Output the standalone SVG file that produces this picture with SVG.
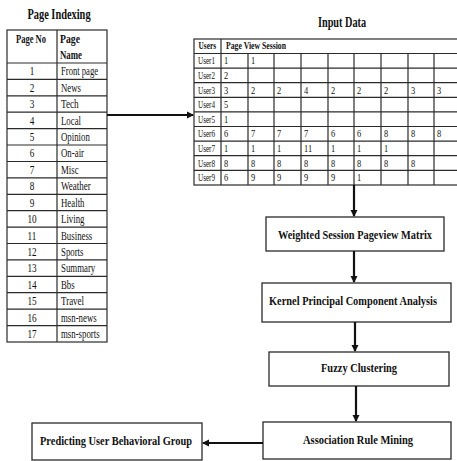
<svg xmlns="http://www.w3.org/2000/svg" width="457" height="461" viewBox="0 0 457 461">
<style>
text{font-family:"Liberation Serif","Times New Roman",serif;fill:#111}
.t{font-size:14px;font-weight:bold}
.b{font-size:13px;font-weight:bold}
.h{font-size:11.5px;font-weight:bold}
.hs{font-size:10.5px;font-weight:bold}
.c{font-size:11.5px}
.cs{font-size:10.5px}
.g line,.g rect{stroke:#2a2a2a;stroke-width:1.2;fill:none}
.box{fill:#fff;stroke:#2a2a2a;stroke-width:1.3}
.con{stroke:#111;stroke-width:2.2;fill:none;marker-end:url(#ah)}
</style>
<defs>
<marker id="ah" markerWidth="8" markerHeight="8" refX="6" refY="4" orient="auto" markerUnits="userSpaceOnUse">
<path d="M0,0.5 L7,4 L0,7.5 Z" fill="#111"/>
</marker>
</defs>
<rect width="457" height="461" fill="#fff"/>

<g id="page-indexing">
<text class="t" transform="translate(59,19) scale(0.8,1)" text-anchor="middle" textLength="79" lengthAdjust="spacingAndGlyphs">Page Indexing</text>
<g class="g">
<rect x="7" y="30" width="100" height="312"/>
<line x1="57" y1="30" x2="57" y2="342"/>
<line x1="7" y1="63" x2="107" y2="63"/>
<line x1="7" y1="79.4" x2="107" y2="79.4"/>
<line x1="7" y1="95.8" x2="107" y2="95.8"/>
<line x1="7" y1="112.2" x2="107" y2="112.2"/>
<line x1="7" y1="128.6" x2="107" y2="128.6"/>
<line x1="7" y1="145" x2="107" y2="145"/>
<line x1="7" y1="161.5" x2="107" y2="161.5"/>
<line x1="7" y1="177.9" x2="107" y2="177.9"/>
<line x1="7" y1="194.3" x2="107" y2="194.3"/>
<line x1="7" y1="210.7" x2="107" y2="210.7"/>
<line x1="7" y1="227.1" x2="107" y2="227.1"/>
<line x1="7" y1="243.5" x2="107" y2="243.5"/>
<line x1="7" y1="259.9" x2="107" y2="259.9"/>
<line x1="7" y1="276.3" x2="107" y2="276.3"/>
<line x1="7" y1="292.7" x2="107" y2="292.7"/>
<line x1="7" y1="309.1" x2="107" y2="309.1"/>
<line x1="7" y1="325.6" x2="107" y2="325.6"/>
</g>
<g transform="translate(16,0) scale(0.8,1)">
<text class="h" x="0" y="43" textLength="37.5" lengthAdjust="spacingAndGlyphs">Page No</text>
</g>
<g transform="translate(60,0) scale(0.8,1)">
<text class="h" x="0" y="43" textLength="25" lengthAdjust="spacingAndGlyphs">Page</text>
<text class="h" x="0" y="59" textLength="27.5" lengthAdjust="spacingAndGlyphs">Name</text>
</g>
<g transform="translate(32,0) scale(0.8,1)" text-anchor="middle">
<text class="c" x="0" y="75.5">1</text>
<text class="c" x="0" y="91.9">2</text>
<text class="c" x="0" y="108.3">3</text>
<text class="c" x="0" y="124.7">4</text>
<text class="c" x="0" y="141.1">5</text>
<text class="c" x="0" y="157.5">6</text>
<text class="c" x="0" y="174">7</text>
<text class="c" x="0" y="190.4">8</text>
<text class="c" x="0" y="206.8">9</text>
<text class="c" x="0" y="223.2">10</text>
<text class="c" x="0" y="239.6">11</text>
<text class="c" x="0" y="256">12</text>
<text class="c" x="0" y="272.4">13</text>
<text class="c" x="0" y="288.8">14</text>
<text class="c" x="0" y="305.2">15</text>
<text class="c" x="0" y="321.6">16</text>
<text class="c" x="0" y="338.1">17</text>
</g>
<g transform="translate(61,0) scale(0.8,1)">
<text class="c" x="0" y="75.5" textLength="46.3" lengthAdjust="spacingAndGlyphs">Front page</text>
<text class="c" x="0" y="91.9" textLength="25" lengthAdjust="spacingAndGlyphs">News</text>
<text class="c" x="0" y="108.3" textLength="22" lengthAdjust="spacingAndGlyphs">Tech</text>
<text class="c" x="0" y="124.7" textLength="25" lengthAdjust="spacingAndGlyphs">Local</text>
<text class="c" x="0" y="141.1" textLength="36" lengthAdjust="spacingAndGlyphs">Opinion</text>
<text class="c" x="0" y="157.5" textLength="28.8" lengthAdjust="spacingAndGlyphs">On-air</text>
<text class="c" x="0" y="174" textLength="22" lengthAdjust="spacingAndGlyphs">Misc</text>
<text class="c" x="0" y="190.4" textLength="37.3" lengthAdjust="spacingAndGlyphs">Weather</text>
<text class="c" x="0" y="206.8" textLength="29.4" lengthAdjust="spacingAndGlyphs">Health</text>
<text class="c" x="0" y="223.2" textLength="29.4" lengthAdjust="spacingAndGlyphs">Living</text>
<text class="c" x="0" y="239.6" textLength="39.1" lengthAdjust="spacingAndGlyphs">Business</text>
<text class="c" x="0" y="256" textLength="28.1" lengthAdjust="spacingAndGlyphs">Sports</text>
<text class="c" x="0" y="272.4" textLength="42.8" lengthAdjust="spacingAndGlyphs">Summary</text>
<text class="c" x="0" y="288.8" textLength="17.1" lengthAdjust="spacingAndGlyphs">Bbs</text>
<text class="c" x="0" y="305.2" textLength="28.8" lengthAdjust="spacingAndGlyphs">Travel</text>
<text class="c" x="0" y="321.6" textLength="44.6" lengthAdjust="spacingAndGlyphs">msn-news</text>
<text class="c" x="0" y="338.1" textLength="48.3" lengthAdjust="spacingAndGlyphs">msn-sports</text>
</g>
</g>

<g id="input-data">
<text class="t" transform="translate(342,27) scale(0.8,1)" text-anchor="middle" textLength="60" lengthAdjust="spacingAndGlyphs">Input Data</text>
<g class="g">
<rect x="194" y="39" width="266" height="146"/>
<line x1="221" y1="39" x2="221" y2="185"/>
<line x1="248" y1="53.5" x2="248" y2="185"/>
<line x1="274" y1="53.5" x2="274" y2="185"/>
<line x1="301" y1="53.5" x2="301" y2="185"/>
<line x1="328" y1="53.5" x2="328" y2="185"/>
<line x1="354" y1="53.5" x2="354" y2="185"/>
<line x1="381" y1="53.5" x2="381" y2="185"/>
<line x1="408" y1="53.5" x2="408" y2="185"/>
<line x1="434" y1="53.5" x2="434" y2="185"/>
<line x1="194" y1="53.5" x2="460" y2="53.5"/>
<line x1="194" y1="68.1" x2="460" y2="68.1"/>
<line x1="194" y1="82.7" x2="460" y2="82.7"/>
<line x1="194" y1="97.3" x2="460" y2="97.3"/>
<line x1="194" y1="111.9" x2="460" y2="111.9"/>
<line x1="194" y1="126.5" x2="460" y2="126.5"/>
<line x1="194" y1="141.1" x2="460" y2="141.1"/>
<line x1="194" y1="155.7" x2="460" y2="155.7"/>
<line x1="194" y1="170.3" x2="460" y2="170.3"/>
</g>
<g transform="translate(198.5,0) scale(0.8,1)">
<text class="hs" x="0" y="49.5" textLength="21.9" lengthAdjust="spacingAndGlyphs">Users</text>
</g>
<g transform="translate(226,0) scale(0.8,1)">
<text class="hs" x="0" y="49.5" textLength="75" lengthAdjust="spacingAndGlyphs">Page View Session</text>
</g>
<g transform="translate(198,0) scale(0.8,1)">
<text class="cs" x="0" y="64.5" textLength="21.3" lengthAdjust="spacingAndGlyphs">User1</text>
<text class="cs" x="0" y="79.1" textLength="21.3" lengthAdjust="spacingAndGlyphs">User2</text>
<text class="cs" x="0" y="93.7" textLength="21.3" lengthAdjust="spacingAndGlyphs">User3</text>
<text class="cs" x="0" y="108.3" textLength="21.3" lengthAdjust="spacingAndGlyphs">User4</text>
<text class="cs" x="0" y="122.9" textLength="21.3" lengthAdjust="spacingAndGlyphs">User5</text>
<text class="cs" x="0" y="137.5" textLength="21.3" lengthAdjust="spacingAndGlyphs">User6</text>
<text class="cs" x="0" y="152.1" textLength="21.3" lengthAdjust="spacingAndGlyphs">User7</text>
<text class="cs" x="0" y="166.7" textLength="21.3" lengthAdjust="spacingAndGlyphs">User8</text>
<text class="cs" x="0" y="181.3" textLength="21.3" lengthAdjust="spacingAndGlyphs">User9</text>
</g>
<g transform="scale(0.8,1)">
<text class="cs" y="64.5"><tspan x="280">1</tspan><tspan x="313.8">1</tspan></text>
<text class="cs" y="79.1"><tspan x="280">2</tspan></text>
<text class="cs" y="93.7"><tspan x="280">3</tspan><tspan x="313.8">2</tspan><tspan x="346.3">2</tspan><tspan x="380">4</tspan><tspan x="413.8">2</tspan><tspan x="446.3">2</tspan><tspan x="480">2</tspan><tspan x="513.8">3</tspan><tspan x="546.3">3</tspan></text>
<text class="cs" y="108.3"><tspan x="280">5</tspan></text>
<text class="cs" y="122.9"><tspan x="280">1</tspan></text>
<text class="cs" y="137.5"><tspan x="280">6</tspan><tspan x="313.8">7</tspan><tspan x="346.3">7</tspan><tspan x="380">7</tspan><tspan x="413.8">6</tspan><tspan x="446.3">6</tspan><tspan x="480">8</tspan><tspan x="513.8">8</tspan><tspan x="546.3">8</tspan></text>
<text class="cs" y="152.1"><tspan x="280">1</tspan><tspan x="313.8">1</tspan><tspan x="346.3">1</tspan><tspan x="380">11</tspan><tspan x="413.8">1</tspan><tspan x="446.3">1</tspan><tspan x="480">1</tspan></text>
<text class="cs" y="166.7"><tspan x="280">8</tspan><tspan x="313.8">8</tspan><tspan x="346.3">8</tspan><tspan x="380">8</tspan><tspan x="413.8">8</tspan><tspan x="446.3">8</tspan><tspan x="480">8</tspan><tspan x="513.8">8</tspan></text>
<text class="cs" y="181.3"><tspan x="280">6</tspan><tspan x="313.8">9</tspan><tspan x="346.3">9</tspan><tspan x="380">9</tspan><tspan x="413.8">9</tspan><tspan x="446.3">1</tspan></text>
</g>
</g>

<g id="weighted">
<rect class="box" x="266" y="217" width="178" height="34"/>
<text class="b" transform="translate(355,238.5) scale(0.8,1)" text-anchor="middle" textLength="192.5" lengthAdjust="spacingAndGlyphs">Weighted Session Pageview Matrix</text>
</g>
<g id="kpca">
<rect class="box" x="262" y="283" width="189" height="39"/>
<text class="b" transform="translate(353,304.5) scale(0.8,1)" text-anchor="middle" textLength="210" lengthAdjust="spacingAndGlyphs">Kernel Principal Component Analysis</text>
</g>
<g id="fuzzy">
<rect class="box" x="269" y="352" width="180" height="34"/>
<text class="b" transform="translate(359,371.5) scale(0.8,1)" text-anchor="middle" textLength="95" lengthAdjust="spacingAndGlyphs">Fuzzy Clustering</text>
</g>
<g id="association">
<rect class="box" x="263" y="422" width="188" height="37"/>
<text class="b" transform="translate(358,443.5) scale(0.8,1)" text-anchor="middle" textLength="137.5" lengthAdjust="spacingAndGlyphs">Association Rule Mining</text>
</g>
<g id="predicting">
<rect class="box" x="32" y="423" width="170" height="37"/>
<text class="b" transform="translate(116,444.5) scale(0.8,1)" text-anchor="middle" textLength="190" lengthAdjust="spacingAndGlyphs">Predicting User Behavioral Group</text>
</g>

<g id="connectors">
<line class="con" x1="107" y1="115" x2="193" y2="115"/>
<line class="con" x1="354" y1="185" x2="354" y2="216"/>
<line class="con" x1="354" y1="251" x2="354" y2="282"/>
<line class="con" x1="355" y1="322" x2="355" y2="351"/>
<line class="con" x1="356" y1="386" x2="356" y2="421"/>
<line class="con" x1="263" y1="443" x2="203" y2="443"/>
</g>
</svg>
